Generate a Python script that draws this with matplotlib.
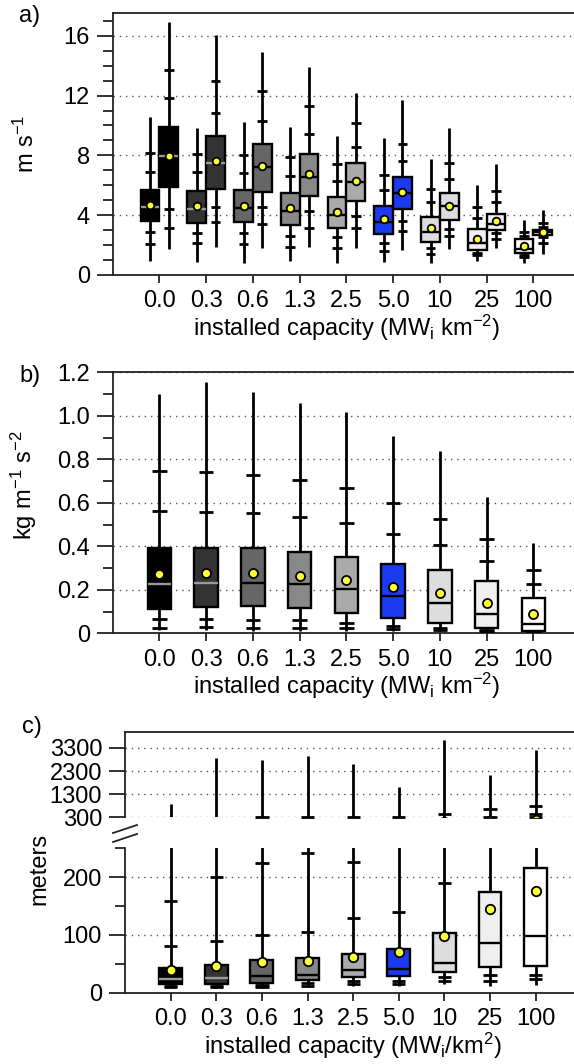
import matplotlib
matplotlib.use("Agg")
import matplotlib.pyplot as plt
from matplotlib.lines import Line2D
from matplotlib.ticker import MultipleLocator, FixedLocator

plt.rcParams['font.family'] = ['Liberation Sans', 'DejaVu Sans']
plt.rcParams['mathtext.fontset'] = 'custom'
plt.rcParams['mathtext.rm'] = 'Liberation Sans'
plt.rcParams['mathtext.it'] = 'Liberation Sans:italic'
plt.rcParams['mathtext.default'] = 'rm'

FS = 17

# ---------------- data ----------------
categories = ["0.0", "0.3", "0.6", "1.3", "2.5", "5.0", "10", "25", "100"]
box_colors = ["#000000", "#333333", "#666666", "#888888", "#aaaaaa",
              "#1c3bf0", "#dddddd", "#efefef", "#ffffff"]
median_colors = ["#999999", "#999999", "#000000", "#000000", "#000000",
                 "#000000", "#000000", "#000000", "#000000"]

# panel a, left boxes (m s-1)
a1_min = [0.94, 0.85, 0.78, 0.94, 0.78, 0.89, 0.83, 0.92, 0.78]
a1_q1 = [3.59, 3.50, 3.55, 3.35, 3.13, 2.72, 2.23, 1.70, 1.47]
a1_med = [4.53, 4.40, 4.46, 4.26, 4.02, 3.57, 2.86, 2.12, 1.72]
a1_q3 = [5.69, 5.63, 5.67, 5.51, 5.22, 4.60, 3.88, 3.06, 2.43]
a1_max = [10.56, 9.82, 10.22, 9.91, 9.31, 9.13, 7.77, 6.05, 3.68]
a1_mean = [4.71, 4.62, 4.64, 4.46, 4.24, 3.73, 3.13, 2.43, 1.92]
a1_ticks = [[2.10, 2.90, 6.88, 8.15], [2.17, 2.83, 6.88, 8.10], [2.10, 2.79, 6.83, 8.04],
            [1.88, 2.63, 6.63, 7.90], [1.83, 2.52, 6.27, 7.43], [1.61, 2.17, 5.67, 6.70],
            [1.41, 1.81, 4.91, 5.78], [1.32, 1.50, 3.82, 4.58], [1.18, 1.34, 2.61, 2.90]]

# panel a, right boxes (m s-1)
a2_min = [1.72, 1.90, 1.81, 1.88, 1.79, 1.67, 1.72, 1.79, 1.41]
a2_q1 = [5.87, 5.76, 5.58, 5.31, 4.98, 4.40, 3.68, 3.01, 2.70]
a2_med = [7.97, 7.46, 7.19, 6.58, 6.23, 5.51, 4.64, 3.39, 2.86]
a2_q3 = [9.89, 9.31, 8.77, 8.10, 7.48, 6.56, 5.51, 4.11, 3.04]
a2_max = [16.92, 16.07, 14.91, 13.91, 12.19, 11.72, 9.82, 7.43, 4.35]
a2_mean = [7.99, 7.59, 7.30, 6.76, 6.27, 5.54, 4.64, 3.64, 2.86]
a2_ticks = [[3.13, 4.40, 11.81, 13.68], [3.55, 4.53, 10.83, 12.95], [3.42, 4.53, 10.27, 12.30],
            [3.15, 4.26, 9.40, 11.27], [3.13, 3.97, 8.59, 10.16], [2.95, 3.64, 7.59, 8.79],
            [2.61, 3.06, 6.43, 7.46], [2.43, 2.79, 4.87, 5.65], [2.17, 2.52, 3.19, 3.46]]

# panel b (kg m-1 s-2)
b_min = [0.014, 0.015, 0.012, 0.010, 0.012, 0.012, 0.010, 0.008, 0.003]
b_q1 = [0.113, 0.122, 0.127, 0.115, 0.095, 0.072, 0.046, 0.023, 0.012]
b_med = [0.227, 0.230, 0.230, 0.227, 0.205, 0.173, 0.141, 0.087, 0.043]
b_q3 = [0.391, 0.391, 0.391, 0.372, 0.352, 0.319, 0.291, 0.239, 0.162]
b_max = [1.099, 1.154, 1.109, 1.057, 1.016, 0.909, 0.840, 0.628, 0.414]
b_mean = [0.273, 0.279, 0.276, 0.265, 0.245, 0.214, 0.184, 0.141, 0.090]
b_ticks = [[0.026, 0.064, 0.564, 0.745], [0.030, 0.067, 0.559, 0.742], [0.023, 0.061, 0.552, 0.728],
           [0.023, 0.061, 0.535, 0.705], [0.023, 0.046, 0.506, 0.667], [0.018, 0.034, 0.455, 0.598],
           [0.015, 0.026, 0.405, 0.527], [0.012, 0.016, 0.334, 0.432], [0.005, 0.008, 0.228, 0.291]]

# panel c (meters)
c_min = [7.3, 7.3, 7.9, 10.4, 11.0, 12.0, 15.0, 11.5, 13.4]
c_q1 = [15.1, 15.1, 17.3, 22.0, 26.6, 28.3, 36.3, 45.0, 46.7]
c_med = [23.7, 25.0, 28.9, 31.1, 39.3, 40.5, 51.9, 85.4, 98.1]
c_q3 = [42.2, 47.9, 55.8, 60.6, 67.5, 76.1, 103.8, 174.7, 215.2]
c_max = [860, 2869, 2770, 2955, 2584, 1593, 3632, 2123, 3201]
c_mean = [38.6, 45.5, 52.5, 54.8, 61.6, 70.4, 98.0, 144.8, 176.0]
c_ticks = [[9.3, 12.1, 80.8, 158.6], [9.3, 12.1, 89.4, 200.0], [9.8, 13.3, 99.8, 225.0, 300.0],
           [12.1, 17.3, 104.5, 241.0, 300.0], [14.5, 20.3, 129.8, 225.6, 300.0],
           [15.1, 20.8, 139.0, 300.0], [20.8, 27.7, 190.0, 430.0],
           [20.8, 30.6, 330.0, 645.0], [23.1, 30.6, 300.0, 430.0, 790.0]]

positions = list(range(1, len(categories) + 1))

# ---------------- helpers ----------------
W, H = 574, 1064
fig = plt.figure(figsize=(W / 100, H / 100), dpi=100)


def px_axes(left, top, right, bottom):
    return fig.add_axes([left / W, 1 - bottom / H, (right - left) / W, (bottom - top) / H])


def make_stats(mins, q1s, meds, q3s, maxs, means):
    return [dict(whislo=a, q1=b, med=c, q3=d, whishi=e, mean=f, fliers=[])
            for a, b, c, d, e, f in zip(mins, q1s, meds, q3s, maxs, means)]


def draw(ax, pos, stats, width, ticks, tick_w, ms, tick_min=None, tick_clip=True):
    bp = ax.bxp(stats, positions=pos, widths=width, patch_artist=True,
                showcaps=False, showmeans=True, showfliers=False, manage_ticks=False,
                boxprops=dict(edgecolor='black', linewidth=1.7),
                whiskerprops=dict(color='black', linewidth=2.0, solid_capstyle='butt'),
                medianprops=dict(linewidth=1.7, solid_capstyle='butt'),
                meanprops=dict(marker='o', markerfacecolor='#ffff33', markeredgecolor='black',
                               markersize=ms, markeredgewidth=1.3))
    for box, c in zip(bp['boxes'], box_colors):
        box.set_facecolor(c)
    for med, c in zip(bp['medians'], median_colors):
        med.set_color(c)
    for m in bp['means']:
        m.set_zorder(5)
    for x, ts in zip(pos, ticks):
        ts = [t for t in ts if tick_min is None or t >= tick_min]
        if ts:
            ax.hlines(ts, x - tick_w / 2, x + tick_w / 2, color='black', linewidth=2.0,
                      zorder=3, clip_on=tick_clip)


def style(ax, xlim, show_x=True):
    ax.set_xlim(*xlim)
    ax.spines['right'].set_visible(False)
    for s in ax.spines.values():
        s.set_linewidth(1.3)
        s.set_color('#222222')
    ax.set_axisbelow(True)
    ax.grid(axis='y', which='major', linestyle=(0, (1, 3.5)), color='#555555', linewidth=1.0)
    ax.tick_params(axis='y', which='major', direction='out', length=11.5, width=1.3,
                   labelsize=FS, pad=5, color='#222222')
    ax.tick_params(axis='y', which='minor', direction='out', length=7, width=1.3, color='#222222')
    if show_x:
        ax.set_xticks(positions)
        ax.set_xticklabels(categories)
        ax.tick_params(axis='x', which='major', direction='out', length=6, width=1.3,
                       labelsize=FS, pad=5, color='#222222')
    else:
        ax.set_xticks([])


XLIM_AB = (0, 9.87)
XLIM_C = (0, 9.84)

# ---------------- panel a ----------------
axa = px_axes(112.7, 13.3, 574, 275)
draw(axa, [p - 0.2 for p in positions], make_stats(a1_min, a1_q1, a1_med, a1_q3, a1_max, a1_mean),
     0.4, a1_ticks, 0.21, 5.5)
draw(axa, [p + 0.2 for p in positions], make_stats(a2_min, a2_q1, a2_med, a2_q3, a2_max, a2_mean),
     0.4, a2_ticks, 0.21, 5.5)
style(axa, XLIM_AB)
axa.set_ylim(0, 17.5)
axa.yaxis.set_major_locator(MultipleLocator(4))
axa.yaxis.set_minor_locator(MultipleLocator(1))
axa.set_ylabel('m s$^{-1}$', fontsize=FS)
axa.yaxis.set_label_coords(-0.160, 0.5)
axa.set_xlabel('installed capacity (MW$_{i}$ km$^{-2}$)', fontsize=FS)
axa.xaxis.set_label_coords(5 / XLIM_AB[1], -0.145)

# ---------------- panel b ----------------
axb = px_axes(112.7, 372.3, 574, 633.3)
draw(axb, positions, make_stats(b_min, b_q1, b_med, b_q3, b_max, b_mean),
     0.5, b_ticks, 0.31, 6.5)
style(axb, XLIM_AB)
axb.set_ylim(0, 1.2)
axb.set_yticks([0, 0.2, 0.4, 0.6, 0.8, 1.0, 1.2])
axb.set_yticklabels(['0', '0.2', '0.4', '0.6', '0.8', '1.0', '1.2'])
axb.yaxis.set_minor_locator(FixedLocator([0.1, 0.3, 0.5, 0.7, 0.9, 1.1]))
axb.set_ylabel('kg m$^{-1}$ s$^{-2}$', fontsize=FS)
axb.yaxis.set_label_coords(-0.160, 0.568)
axb.set_xlabel('installed capacity (MW$_{i}$ km$^{-2}$)', fontsize=FS)
axb.xaxis.set_label_coords(5 / XLIM_AB[1], -0.145)

# ---------------- panel c (broken axis) ----------------
c_stats = make_stats(c_min, c_q1, c_med, c_q3, c_max, c_mean)
axc_top = px_axes(125, 731.7, 574, 817.3)
draw(axc_top, positions, c_stats, 0.5, c_ticks, 0.29, 6.8, tick_min=300, tick_clip=False)
style(axc_top, XLIM_C, show_x=False)
axc_top.spines['bottom'].set_visible(False)
axc_top.set_ylim(300, 4000)
axc_top.set_yticks([300, 1300, 2300, 3300])

axc = px_axes(125, 848.3, 574, 992.7)
draw(axc, positions, c_stats, 0.5, c_ticks, 0.29, 6.8)
style(axc, XLIM_C)
axc.spines['top'].set_visible(False)
axc.set_ylim(0, 250)
axc.set_yticks([0, 100, 200])
axc.yaxis.set_minor_locator(FixedLocator([50, 150, 250]))
axc.set_xlabel('installed capacity (MW$_{i}$/km$^{2}$)', fontsize=FS)
axc.xaxis.set_label_coords(5 / XLIM_C[1], -0.262)
axc.set_ylabel('meters', fontsize=FS)
axc.yaxis.set_label_coords(-0.165, 0.857)

# break marks
for (x0, y0, x1, y1) in [(113, 833, 137, 825), (113, 842, 137, 834)]:
    fig.add_artist(Line2D([x0 / W, x1 / W], [1 - y0 / H, 1 - y1 / H], color='#222222',
                          linewidth=1.3, transform=fig.transFigure))

# panel letters
fig.text(30 / W, 1 - 16 / H, 'a)', fontsize=FS, ha='center', va='center')
fig.text(30 / W, 1 - 376 / H, 'b)', fontsize=FS, ha='center', va='center')
fig.text(32 / W, 1 - 727 / H, 'c)', fontsize=FS, ha='center', va='center')

fig.savefig('out.png', dpi=100)
